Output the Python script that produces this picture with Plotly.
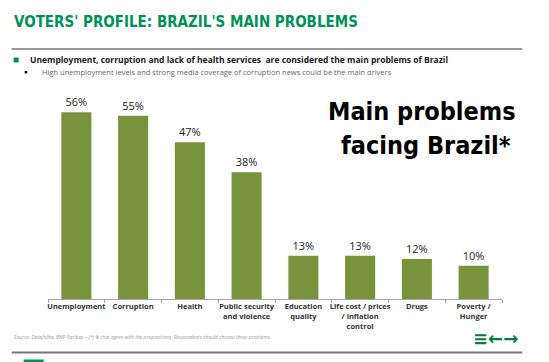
import plotly.graph_objects as go

categories = ["Unemployment", "Corruption", "Health", "Public security<br>and violence",
              "Education<br>quality", "Life cost / prices<br>/ inflation<br>control", "Drugs",
              "Poverty /<br>Hunger"]
values = [56, 55, 47, 38, 13, 13, 12, 10]
labels = [f"{v}%" for v in values]

W, H = 549, 362
L, R, T, B = 48.3, 47.3, 99, 63
PW, PH = W - L - R, H - T - B


def px(x):
    return (x - L) / PW


def py(y):
    return (H - B - y) / PH


GREEN = "#00915A"
BAR = "#77933C"
COND = "DejaVu Sans Condensed"

fig = go.Figure(go.Bar(
    x=categories, y=values, text=labels, textposition="outside",
    textfont=dict(family="Open Sans", size=11, color="#1a1a1a"),
    marker=dict(color=BAR, line=dict(width=0)), cliponaxis=False,
))

fig.update_layout(
    width=W, height=H, margin=dict(l=L, r=R, t=T, b=B, autoexpand=False),
    paper_bgcolor="white", plot_bgcolor="white", showlegend=False,
    bargap=0.47,
    xaxis=dict(showline=True, linecolor="#a6a6a6", linewidth=1, ticks="outside",
               ticklen=3, tickcolor="#a6a6a6", tickson="boundaries", tickangle=0,
               automargin=False,
               tickfont=dict(family="Open Sans", size=7.5, color="#333333", weight="bold"),
               showgrid=False),
    yaxis=dict(range=[0, 60], visible=False, showgrid=False, automargin=False),
)


def A(**kw):
    d = dict(xref="paper", yref="paper", showarrow=False, yanchor="middle")
    d.update(kw)
    return d


ann = []
ann.append(A(text="VOTERS' PROFILE: BRAZIL'S MAIN PROBLEMS", x=px(12), y=py(22), xanchor="left",
             font=dict(family=COND, size=15, color=GREEN, weight="bold")))
ann.append(A(text="Unemployment, corruption and lack of health services  are considered the main problems of Brazil",
             x=px(28), y=py(60), xanchor="left",
             font=dict(family="Open Sans", size=8.5, color="#1a1a1a", weight="bold")))
ann.append(A(text="High unemployment levels and strong media coverage of corruption news could be the main drivers",
             x=px(40), y=py(72), xanchor="left",
             font=dict(family="Open Sans", size=7.5, color="#666666")))
ann.append(A(text="Main problems", x=px(422), y=py(112), xanchor="center",
             font=dict(family=COND, size=25, color="#000000", weight="bold")))
ann.append(A(text="facing Brazil*", x=px(426), y=py(145), xanchor="center",
             font=dict(family=COND, size=25, color="#000000", weight="bold")))
ann.append(A(text="<i>Source: Datafolha, BNP Paribas – (*) % that agree with the propositions. Respondents should choose three problems.</i>",
             x=px(12), y=py(337), xanchor="left",
             font=dict(family="Open Sans", size=5, color="#999999")))
ann.append(A(text="≡←→", x=px(520), y=py(338), xanchor="right",
             font=dict(family="DejaVu Sans", size=18, color="#0b7a3e", weight="bold")))
fig.update_layout(annotations=ann)

shapes = [
    dict(type="line", xref="paper", yref="paper", x0=px(12), x1=px(522), y0=py(49), y1=py(49),
         line=dict(color="#333333", width=1)),
    dict(type="rect", xref="paper", yref="paper", x0=px(14), x1=px(19), y0=py(57.5), y1=py(62.5),
         fillcolor=GREEN, line=dict(width=0)),
    dict(type="rect", xref="paper", yref="paper", x0=px(25), x1=px(27.5), y0=py(71), y1=py(73.5),
         fillcolor="#000000", line=dict(width=0)),
    dict(type="line", xref="paper", yref="paper", x0=px(12), x1=px(522), y0=py(352.5), y1=py(352.5),
         line=dict(color="#777777", width=2)),
    dict(type="rect", xref="paper", yref="paper", x0=px(24), x1=px(44), y0=py(362), y1=py(359.5),
         fillcolor=GREEN, line=dict(width=0)),
]
fig.update_layout(shapes=shapes)

fig.write_html("out.html", config={"displayModeBar": False},
               post_script="document.body.style.margin='0';document.body.style.overflow='hidden';")
